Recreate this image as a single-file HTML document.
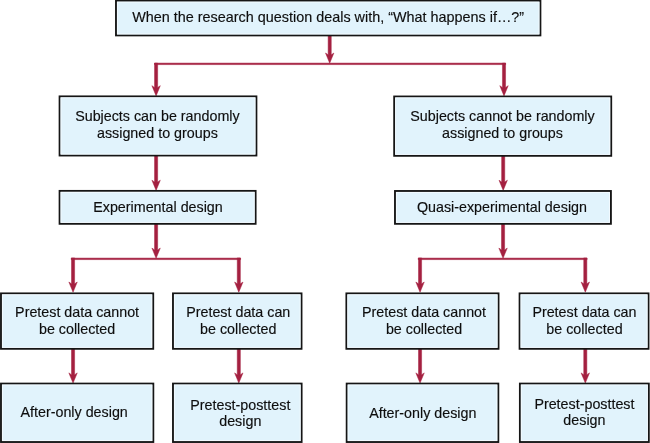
<!DOCTYPE html>
<html><head><meta charset="utf-8">
<style>
html,body{margin:0;padding:0;background:#fff;}
body{width:650px;height:443px;position:relative;overflow:hidden;font-family:"Liberation Sans",sans-serif;}
svg{position:absolute;left:0;top:0;}
.t{position:absolute;display:flex;align-items:center;justify-content:center;text-align:center;font-size:14.3px;line-height:16.3px;color:#0e0e0e;-webkit-text-stroke:0.15px #0e0e0e;will-change:transform;}
</style></head><body>
<svg width="650" height="443" viewBox="0 0 650 443">
<g fill="#a42040" stroke="#a42040" stroke-width="0.5" stroke-linejoin="round">
<path d="M328.15 35 L331.25 35 L331.25 54.800000000000004 L333.9 53.0 L329.7 63.2 L325.5 53.0 L328.15 54.800000000000004 Z"/>
<rect x="154.5" y="63.1" width="351.1" height="1.5"/>
<path d="M154.54999999999998 63.1 L157.65 63.1 L157.65 87.5 L160.29999999999998 85.7 L156.1 95.9 L151.9 85.7 L154.54999999999998 87.5 Z"/>
<path d="M502.45 63.1 L505.55 63.1 L505.55 87.5 L508.2 85.7 L504.0 95.9 L499.8 85.7 L502.45 87.5 Z"/>
<path d="M154.54999999999998 155 L157.65 155 L157.65 182.0 L160.29999999999998 180.20000000000002 L156.1 190.4 L151.9 180.20000000000002 L154.54999999999998 182.0 Z"/>
<path d="M501.65 155 L504.75 155 L504.75 182.0 L507.4 180.20000000000002 L503.2 190.4 L499.0 180.20000000000002 L501.65 182.0 Z"/>
<path d="M154.54999999999998 223 L157.65 223 L157.65 249.9 L160.29999999999998 248.10000000000002 L156.1 258.3 L151.9 248.10000000000002 L154.54999999999998 249.9 Z"/>
<rect x="71.2" y="258.1" width="169.39999999999998" height="1.5"/>
<path d="M71.5 257.9 L74.6 257.9 L74.6 283.8 L77.25 282.0 L73.05 292.2 L68.85 282.0 L71.5 283.8 Z"/>
<path d="M237.25 257.9 L240.35000000000002 257.9 L240.35000000000002 283.8 L243.0 282.0 L238.8 292.2 L234.60000000000002 282.0 L237.25 283.8 Z"/>
<path d="M501.5 223 L504.6 223 L504.6 249.9 L507.25 248.10000000000002 L503.05 258.3 L498.85 248.10000000000002 L501.5 249.9 Z"/>
<rect x="418.2" y="258.1" width="168.90000000000003" height="1.5"/>
<path d="M418.5 257.9 L421.6 257.9 L421.6 283.8 L424.25 282.0 L420.05 292.2 L415.85 282.0 L418.5 283.8 Z"/>
<path d="M583.75 257.9 L586.8499999999999 257.9 L586.8499999999999 283.8 L589.5 282.0 L585.3 292.2 L581.0999999999999 282.0 L583.75 283.8 Z"/>
<path d="M71.5 348.5 L74.6 348.5 L74.6 374.70000000000005 L77.25 372.90000000000003 L73.05 383.1 L68.85 372.90000000000003 L71.5 374.70000000000005 Z"/>
<path d="M237.25 348.5 L240.35000000000002 348.5 L240.35000000000002 374.70000000000005 L243.0 372.90000000000003 L238.8 383.1 L234.60000000000002 372.90000000000003 L237.25 374.70000000000005 Z"/>
<path d="M418.5 348.5 L421.6 348.5 L421.6 374.70000000000005 L424.25 372.90000000000003 L420.05 383.1 L415.85 372.90000000000003 L418.5 374.70000000000005 Z"/>
<path d="M583.75 348.5 L586.8499999999999 348.5 L586.8499999999999 374.70000000000005 L589.5 372.90000000000003 L585.3 383.1 L581.0999999999999 372.90000000000003 L583.75 374.70000000000005 Z"/>
</g>
<g fill="#e1f3fc" stroke="#151515" stroke-width="1.9">
<rect x="116.0" y="0.7" width="424.40" height="34.70"/>
<rect x="59.6" y="96.4" width="196.80" height="59.10"/>
<rect x="394.2" y="96.5" width="217.00" height="59.30"/>
<rect x="59.6" y="190.9" width="196.00" height="32.90"/>
<rect x="395.0" y="191.0" width="215.90" height="32.80"/>
<rect x="1.0" y="293.4" width="152.20" height="55.40"/>
<rect x="173.0" y="293.4" width="128.50" height="55.40"/>
<rect x="346.4" y="293.4" width="152.10" height="55.40"/>
<rect x="519.6" y="293.4" width="128.90" height="55.40"/>
<rect x="1.0" y="383.6" width="152.30" height="58.40"/>
<rect x="173.0" y="383.6" width="128.60" height="58.40"/>
<rect x="346.7" y="383.6" width="151.60" height="58.40"/>
<rect x="519.9" y="383.6" width="128.90" height="58.40"/>
</g>
<g fill="none" stroke="#f4fbff" stroke-width="0.9">
<rect x="117.40" y="2.10" width="421.60" height="31.90"/>
<rect x="61.00" y="97.80" width="194.00" height="56.30"/>
<rect x="395.60" y="97.90" width="214.20" height="56.50"/>
<rect x="61.00" y="192.30" width="193.20" height="30.10"/>
<rect x="396.40" y="192.40" width="213.10" height="30.00"/>
<rect x="2.40" y="294.80" width="149.40" height="52.60"/>
<rect x="174.40" y="294.80" width="125.70" height="52.60"/>
<rect x="347.80" y="294.80" width="149.30" height="52.60"/>
<rect x="521.00" y="294.80" width="126.10" height="52.60"/>
<rect x="2.40" y="385.00" width="149.50" height="55.60"/>
<rect x="174.40" y="385.00" width="125.80" height="55.60"/>
<rect x="348.10" y="385.00" width="148.80" height="55.60"/>
<rect x="521.30" y="385.00" width="126.10" height="55.60"/>
</g>

</svg>
<div class="t" style="left:116.0px;top:-0.10000000000000009px;width:424.40px;height:34.70px;font-size:14.4px">When the research question deals with, “What happens if…?”</div>
<div class="t" style="left:58.5px;top:95.30000000000001px;width:196.80px;height:59.10px;font-size:14.3px">Subjects can be randomly<br>assigned to groups</div>
<div class="t" style="left:393.7px;top:95.2px;width:217.00px;height:59.30px;font-size:14.3px">Subjects cannot be randomly<br>assigned to groups</div>
<div class="t" style="left:60.300000000000004px;top:190.55px;width:196.00px;height:32.90px;font-size:14.3px">Experimental design</div>
<div class="t" style="left:393.7px;top:190.5px;width:215.90px;height:32.80px;font-size:14.3px">Quasi-experimental design</div>
<div class="t" style="left:1.3px;top:293.0px;width:152.20px;height:55.40px;font-size:14.3px">Pretest data cannot<br>be collected</div>
<div class="t" style="left:173.5px;top:293.2px;width:128.50px;height:55.40px;font-size:14.3px">Pretest data can<br>be collected</div>
<div class="t" style="left:347.79999999999995px;top:293.0px;width:152.10px;height:55.40px;font-size:14.3px">Pretest data cannot<br>be collected</div>
<div class="t" style="left:519.7px;top:293.0px;width:128.90px;height:55.40px;font-size:14.3px">Pretest data can<br>be collected</div>
<div class="t" style="left:-1.7999999999999998px;top:383.3px;width:152.30px;height:58.40px;font-size:14.3px">After-only design</div>
<div class="t" style="left:176.0px;top:383.5px;width:128.60px;height:58.40px;font-size:14.3px">Pretest-posttest<br>design</div>
<div class="t" style="left:346.7px;top:383.8px;width:151.60px;height:58.40px;font-size:14.3px">After-only design</div>
<div class="t" style="left:520.1px;top:383.3px;width:128.90px;height:58.40px;font-size:14.3px">Pretest-posttest<br>design</div>
</body></html>
